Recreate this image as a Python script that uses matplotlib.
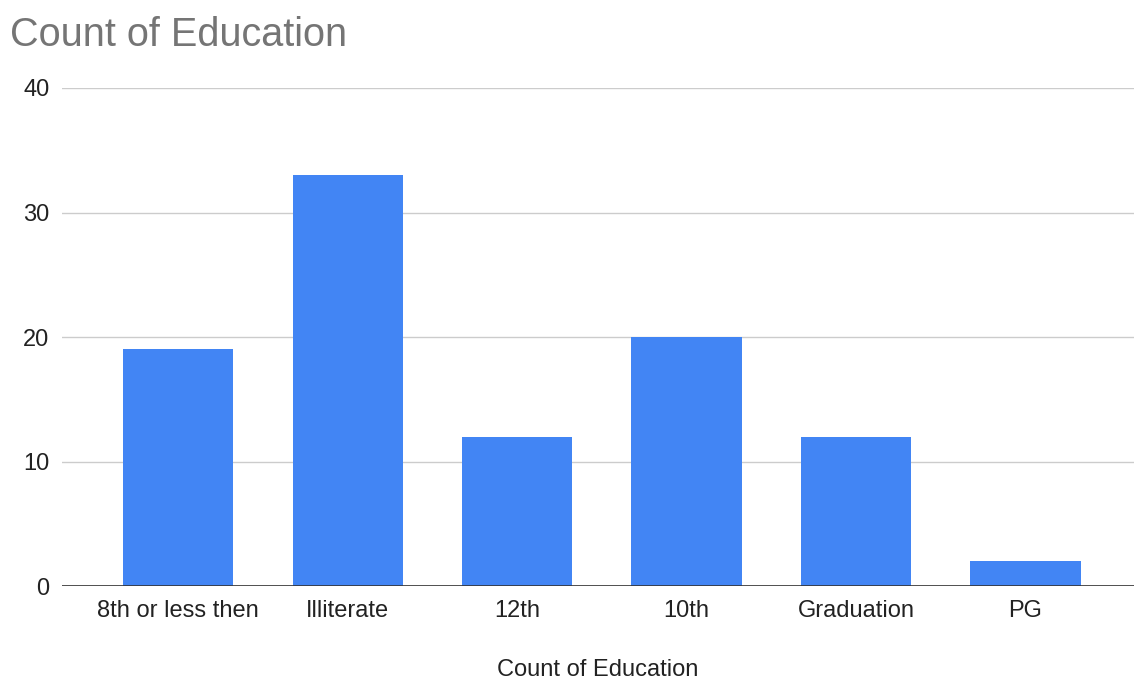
import matplotlib.pyplot as plt

plt.rcParams['font.family'] = ['Liberation Sans', 'DejaVu Sans']

categories = ["8th or less then", "Illiterate", "12th", "10th", "Graduation", "PG"]
counts = [19, 33, 12, 20, 12, 2]
y_ticks = [0, 10, 20, 30, 40]

fig = plt.figure(figsize=(11.34, 6.8), dpi=100)
ax = fig.add_axes([0.0547, 0.1382, 0.9453, 0.7324])

x = range(len(categories))
ax.bar(x, counts, width=0.65, color="#4285F4", zorder=3)

ax.set_xlim(-0.685, 5.64)
ax.set_ylim(0, 40)
ax.set_yticks(y_ticks)
ax.set_xticks(list(x))
ax.set_xticklabels(categories)
ax.tick_params(axis="both", length=0, labelsize=17, colors="#222222")
ax.tick_params(axis="x", pad=10)
ax.tick_params(axis="y", pad=9)

ax.grid(axis="y", color="#cccccc", linewidth=1, zorder=0)
ax.axhline(0, color="#333333", linewidth=1.2, zorder=4)
for s in ax.spines.values():
    s.set_visible(False)

ax.set_xlabel("Count of Education", fontsize=17, color="#222222", labelpad=27)
fig.text(0.009, 0.949, "Count of Education", fontsize=28.5, color="#757575", va="center", ha="left")

plt.savefig("out.png", dpi=100)
